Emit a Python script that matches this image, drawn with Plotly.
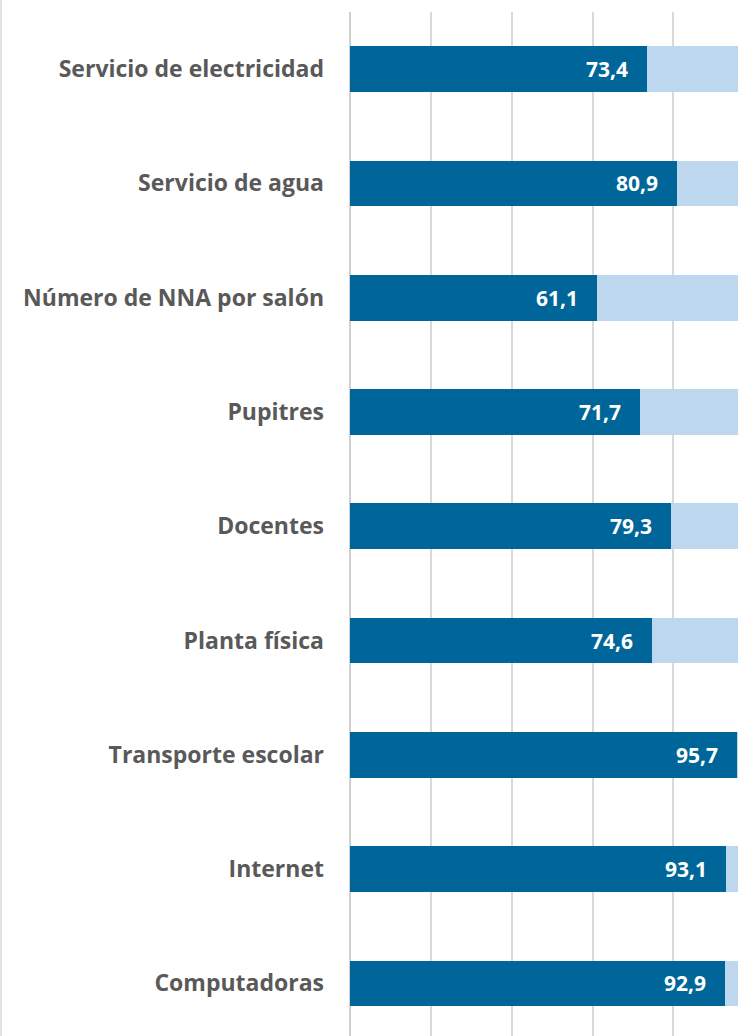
import plotly.graph_objects as go

categorias = [
    "Servicio de electricidad",
    "Servicio de agua",
    "Número de NNA por salón",
    "Pupitres",
    "Docentes",
    "Planta física",
    "Transporte escolar",
    "Internet",
    "Computadoras",
]
valores = [73.4, 80.9, 61.1, 71.7, 79.3, 74.6, 95.7, 93.1, 92.9]
resto = [round(100 - v, 1) for v in valores]

AZUL = "#006699"
CELESTE = "#BDD7EE"
GRIS = "#595959"
FUENTE = "Open Sans"

fig = go.Figure()
fig.add_trace(go.Bar(y=categorias, x=valores, orientation="h",
                     marker=dict(color=AZUL, line=dict(width=0)), hoverinfo="skip"))
fig.add_trace(go.Bar(y=categorias, x=resto, orientation="h",
                     marker=dict(color=CELESTE, line=dict(width=0)), hoverinfo="skip"))

# etiquetas de valor, dentro de la barra, alineadas a la derecha
for cat, v in zip(categorias, valores):
    fig.add_annotation(x=v, y=cat, text=f"{v:.1f}".replace(".", ","),
                       showarrow=False, xanchor="right", xshift=-17,
                       font=dict(family=FUENTE, size=21, color="white", weight="bold"))

w, h = 738, 1036
ml, mt = 350, 12
fig.update_layout(
    width=w, height=h,
    margin=dict(l=ml, r=0, t=mt, b=0),
    barmode="stack", bargap=0.6,
    showlegend=False,
    plot_bgcolor="white", paper_bgcolor="white",
    xaxis=dict(range=[0, 96.0], dtick=20, showticklabels=False,
               showgrid=True, gridcolor="#D9D9D9", gridwidth=1.5,
               zeroline=True, zerolinecolor="#D0D0D0", zerolinewidth=1.5,
               fixedrange=True),
    yaxis=dict(range=[8.46, -0.5], showgrid=False, zeroline=False,
               ticklabelstandoff=25, fixedrange=True,
               tickfont=dict(family=FUENTE, size=23, color=GRIS, weight="bold")),
    shapes=[dict(type="line", xref="paper", yref="paper",
                 x0=-(ml - 1) / (w - ml), x1=-(ml - 1) / (w - ml),
                 y0=0, y1=1 + mt / (h - mt),
                 line=dict(color="#D9D9D9", width=1.5))],
)

# sin margen del body para que la figura ocupe la ventana exacta
fig.write_html("out.html", config={"displayModeBar": False},
               post_script="document.body.style.margin='0';document.body.style.overflow='hidden';")
